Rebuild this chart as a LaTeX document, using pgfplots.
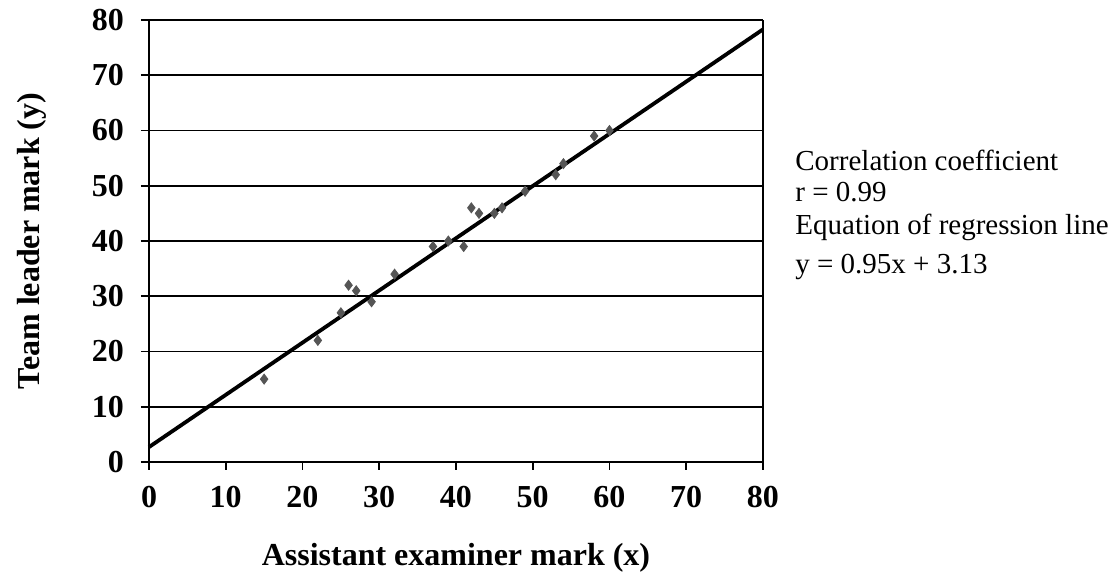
\documentclass[border=0pt]{standalone}
\usepackage{fontspec}
\setmainfont{Liberation Serif}
\usepackage{pgfplots}
\pgfplotsset{compat=1.18}
\definecolor{markgray}{HTML}{555555}
\begin{document}
\begin{tikzpicture}
\path[use as bounding box] (-74.5pt,-58pt) rectangle (485.5pt,231pt);
\begin{axis}[
  at={(0,0)}, anchor=origin,
  scale only axis, width=307pt, height=221pt,
  xmin=0, xmax=80, ymin=0, ymax=80,
  xtick={0,10,...,80}, ytick={0,10,...,80},
  /pgf/number format/assume math mode=true,
  ticklabel style={font=\fontsize{16}{18}\selectfont\bfseries},
  xticklabel style={yshift=-4.5pt},
  yticklabel style={xshift=-5pt},
  tick style={black, line width=0.8pt},
  xtick align=outside, ytick align=outside,
  major tick length=4pt,
  ymajorgrids, grid style={black, line width=0.8pt},
  axis line style={black, line width=1pt},
  axis x line*=bottom, axis y line*=left,
  clip=false,
]
\draw[black, line width=0.8pt] (axis cs:80,0) -- (axis cs:80,80);
\addplot[only marks, mark=diamond*, mark size=2.5pt, color=markgray] coordinates {
(15,15) (22,22) (25,27) (26,32) (27,31) (29,29) (32,34)
(37,39) (39,40) (41,39) (42,46) (43,45) (45,45) (46,46)
(49,49) (53,52) (54,54) (58,59) (60,60)
};
\addplot[black, line width=1.9pt] coordinates {(0,2.7) (80,78.3)};
\end{axis}
\node[font=\fontsize{16}{18}\selectfont\bfseries, rotate=90] at (-58.5pt,110.5pt) {Team leader mark (y)};
\node[font=\fontsize{16}{18}\selectfont\bfseries] at (153.5pt,-48pt) {Assistant examiner mark (x)};
\begin{scope}[every node/.style={anchor=west, inner sep=0pt, font=\fontsize{14.5}{16}\selectfont}]
\node at (323pt,151pt) {Correlation coefficient};
\node at (323pt,135pt) {r = 0.99};
\node at (323pt,117.5pt) {Equation of regression line};
\node at (323pt,97.5pt) {y = 0.95x + 3.13};
\end{scope}
\end{tikzpicture}
\end{document}
